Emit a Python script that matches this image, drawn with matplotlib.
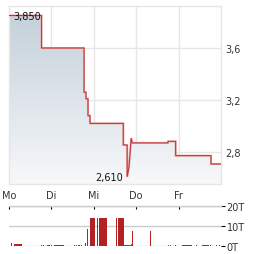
import matplotlib
matplotlib.use("Agg")
import matplotlib.pyplot as plt
import numpy as np
from matplotlib.colors import LinearSegmentedColormap

# ---- data ----
days = ["Mo", "Di", "Mi", "Do", "Fr"]
price_t = [0.0, 0.767, 0.767, 1.77, 1.77, 1.816, 1.816, 1.863, 1.863, 1.91, 1.91,
           2.696, 2.696, 2.787, 2.787, 2.83, 2.882, 2.905, 3.75, 3.75, 3.93, 3.93,
           4.764, 4.764, 5.0]
price_v = [3.85, 3.85, 3.60, 3.60, 3.26, 3.26, 3.21, 3.21, 3.08, 3.08, 3.02,
           3.02, 2.854, 2.854, 2.61, 2.685, 2.907, 2.87, 2.87, 2.882, 2.882, 2.772,
           2.772, 2.708, 2.708]
price_ticks = [2.8, 3.2, 3.6]
price_tick_labels = ["2,8", "3,2", "3,6"]
max_label = "3,850"
min_label = "2,610"

vol_t = [-0.024, 0.047, 0.118, 0.755, 0.802, 0.896, 0.991, 1.061, 1.274, 1.533, 1.580,
         1.627, 1.698, 1.792, 1.840, 1.910, 2.005, 2.075, 2.123, 2.524, 2.571, 2.712,
         2.830, 2.877, 2.901, 3.325, 3.750, 3.797, 3.915, 4.080, 4.198, 4.410, 4.552,
         4.693, 4.741, 4.882, 4.953]
vol_w = [0.0236, 0.0236, 0.189, 0.0236, 0.0236, 0.071, 0.0236, 0.212, 0.0236, 0.0236, 0.0236,
         0.047, 0.0236, 0.0236, 0.0236, 0.094, 0.0236, 0.0236, 0.189, 0.0236, 0.142, 0.118,
         0.047, 0.0236, 0.0236, 0.0236, 0.0236, 0.0236, 0.0236, 0.118, 0.118, 0.0236, 0.142,
         0.0236, 0.0236, 0.0236, 0.0236]
vol_v = [1.3, 1.3, 1.0, 0.5, 0.5, 0.5, 0.5, 0.5, 0.5, 0.5, 0.5,
         0.5, 0.5, 1.5, 8.5, 14, 14, 14, 14, 14, 14, 0.3,
         0.4, 1.0, 7.5, 7.5, 0.4, 0.4, 0.4, 0.4, 0.4, 0.4, 0.4,
         0.4, 0.4, 0.4, 0.4]
vol_up = [0, 0, 0, 0, 0, 0, 0, 0, 0, 0, 0,
          0, 0, 0, 0, 0, 0, 0, 0, 0, 0, 0,
          1, 1, 0, 0, 1, 1, 0, 0, 0, 0, 0,
          0, 0, 0, 0]
vol_ticks = [0, 10, 20]
vol_tick_labels = ["0T", "10T", "20T"]

# ---- figure ----
W, H = 264, 255
fig = plt.figure(figsize=(W / 100, H / 100), dpi=100)
x0, x1 = 9 / W, 221 / W
axp = fig.add_axes([x0, 1 - 185 / H, x1 - x0, (185 - 7) / H])
axv = fig.add_axes([x0, 1 - 247 / H, x1 - x0, (247 - 207) / H])

grid_c = "#e6e6e6"
text_c = "#333333"
line_c = "#c03838"
fs = 7

# price panel
ymin, ymax = 2.554, 3.923
axp.set_xlim(0, 5)
axp.set_ylim(ymin, ymax)
for s in axp.spines.values():
    s.set_color(grid_c)
    s.set_linewidth(1)
axp.set_xticks(range(5))
axp.set_xticklabels(days, fontsize=fs, color=text_c)
axp.set_yticks(price_ticks)
axp.set_yticklabels(price_tick_labels, fontsize=fs, color=text_c)
axp.yaxis.tick_right()
axp.tick_params(axis="both", length=0)
axp.tick_params(axis="x", pad=4)
axp.tick_params(axis="y", pad=3)
axp.grid(True, color=grid_c, linewidth=1)
axp.set_axisbelow(True)

cmap = LinearSegmentedColormap.from_list("g", ["#f7f8fa", "#c5d1db"])
grad = np.linspace(0, 1, 256).reshape(-1, 1)
poly = axp.fill_between(price_t, price_v, ymin, color="none", lw=0)
im = axp.imshow(grad, cmap=cmap, aspect="auto", origin="lower",
                extent=[0, 5, ymin, 3.85], zorder=1)
path = poly.get_paths()[0]
im.set_clip_path(path, transform=axp.transData)
axp.plot(price_t, price_v, color="#e8a8a8", lw=1.5, zorder=2, solid_joinstyle="miter")
axp.plot(price_t, price_v, color=line_c, lw=0.75, zorder=3, solid_joinstyle="miter")

imax = int(np.argmax(price_v))
imin = int(np.argmin(price_v))
axp.annotate(max_label, (price_t[imax], price_v[imax]), xytext=(3, -0.7),
             textcoords="offset points", ha="left", va="center", fontsize=fs, color="#111111")
axp.annotate(min_label, (price_t[imin], price_v[imin]), xytext=(-3, 0),
             textcoords="offset points", ha="right", va="center", fontsize=fs, color="#111111")

# volume panel
axv.set_xlim(0, 5)
axv.set_ylim(0, 20)
colors = ["#2a8a2a" if u else "#b22222" for u in vol_up]
axv.bar(vol_t, vol_v, width=vol_w, align="edge", color=colors, linewidth=0, zorder=3)
for s in ["left", "bottom", "right"]:
    axv.spines[s].set_visible(False)
axv.spines["top"].set_color("#cccccc")
axv.spines["top"].set_linewidth(1)
axv.xaxis.tick_top()
axv.set_xticks(range(5))
axv.set_xticklabels([])
axv.tick_params(axis="x", direction="in", length=2, width=0.8, color="black")
axv.yaxis.tick_right()
axv.set_yticks(vol_ticks)
axv.set_yticklabels(vol_tick_labels, fontsize=fs, color=text_c)
axv.tick_params(axis="y", length=3, width=0.8, color="black", pad=1)
axv.grid(True, axis="y", color="#cccccc", linewidth=1)
axv.set_axisbelow(True)

fig.savefig("out.png", dpi=100)
